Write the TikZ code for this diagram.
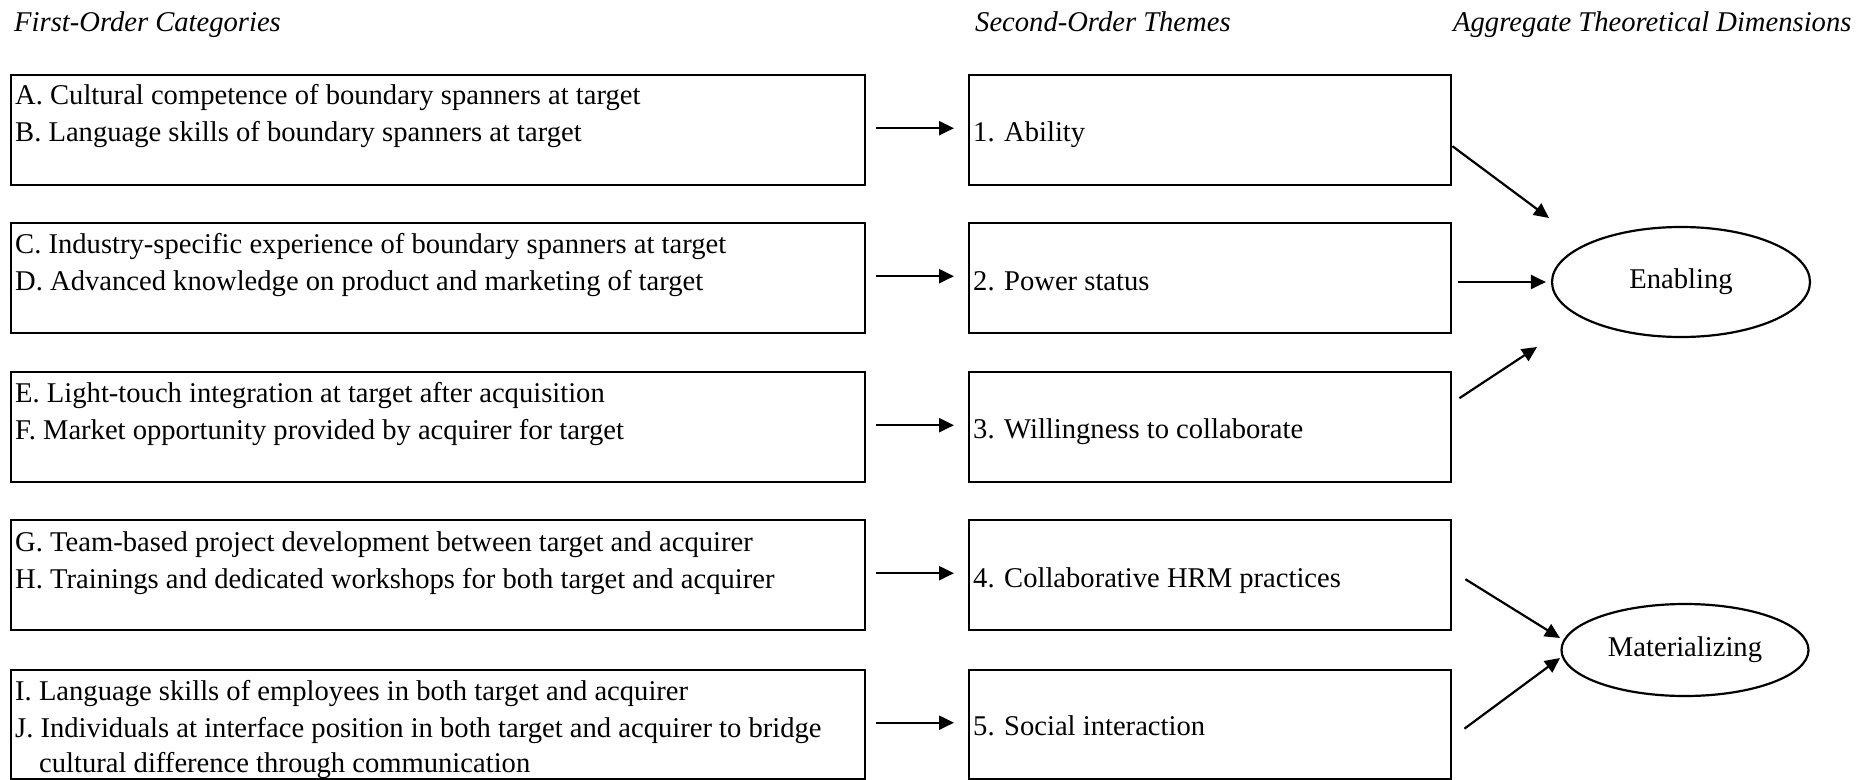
\documentclass[tikz,border=0pt]{standalone}
\usepackage{fontspec}
\setmainfont{Liberation Serif}
\usetikzlibrary{arrows.meta,shapes.geometric}
\begin{document}
\begin{tikzpicture}[x=1pt,y=-1pt,
  every node/.style={font=\fontsize{28.6}{37}\selectfont},
  lbox/.style={draw,line width=2.4pt,minimum width=854pt,minimum height=110pt,anchor=north west,inner sep=0pt},
  mbox/.style={draw,line width=2.4pt,minimum width=482pt,minimum height=110pt,anchor=north west,inner sep=0pt},
  txt/.style={anchor=base west,inner sep=0pt},
  ttl/.style={anchor=base west,inner sep=0pt,font=\fontsize{28.6}{37}\selectfont\itshape},
  dim/.style={draw,ellipse,line width=2.2pt,inner sep=0pt},
  arr/.style={line width=2.2pt,-{Triangle[length=15pt,width=14pt]}}]
\useasboundingbox (0,0) rectangle (1876,779);
% titles
\node[ttl] (t1) at (14,31) {First-Order Categories};
\node[ttl] (t2) at (975,31) {Second-Order Themes};
\node[ttl] (t3) at (1453,31) {Aggregate Theoretical Dimensions};
% left boxes
\node[lbox] (l1) at (10,74) {};
\node[lbox] (l2) at (10,222) {};
\node[lbox] (l3) at (10,371) {};
\node[lbox] (l4) at (10,519) {};
\node[lbox,minimum height=109pt] (l5) at (10,669) {};
\node[txt] (la) at (15,104) {A. Cultural competence of boundary spanners at target};
\node[txt] (lb) at (15,141) {B. Language skills of boundary spanners at target};
\node[txt] (lc) at (15,253) {C. Industry-specific experience of boundary spanners at target};
\node[txt] (ld) at (15,290) {D. Advanced knowledge on product and marketing of target};
\node[txt] (le) at (15,402) {E. Light-touch integration at target after acquisition};
\node[txt] (lf) at (15,439) {F. Market opportunity provided by acquirer for target};
\node[txt] (lg) at (15,551) {G. Team-based project development between target and acquirer};
\node[txt] (lh) at (15,588) {H. Trainings and dedicated workshops for both target and acquirer};
\node[txt] (li) at (15,700) {I. Language skills of employees in both target and acquirer};
\node[txt] (lj) at (15,737) {J. Individuals at interface position in both target and acquirer to bridge};
\node[txt] (lk) at (39,772) {cultural difference through communication};
% middle boxes
\node[mbox] (m1) at (968,74) {};
\node[mbox] (m2) at (968,222) {};
\node[mbox] (m3) at (968,371) {};
\node[mbox] (m4) at (968,519) {};
\node[mbox,minimum height=109pt] (m5) at (968,669) {};
\node[txt] (ma) at (973,141) {1. Ability};
\node[txt] (mb) at (973,290) {2. Power status};
\node[txt] (mc) at (973,438) {3. Willingness to collaborate};
\node[txt] (md) at (973,587) {4. Collaborative HRM practices};
\node[txt] (me) at (973,735) {5. Social interaction};
% ellipses
\node[dim,minimum width=258pt,minimum height=110pt] (en) at (1681,282) {Enabling};
\node[dim,minimum width=247pt,minimum height=92pt] (ma2) at (1685,650) {Materializing};
% arrows left -> middle
\foreach \i in {1,...,5}{
  \draw[arr,shorten <=10pt,shorten >=14pt] ([yshift=2pt]l\i.east) -- ([yshift=2pt]m\i.west);
}
% arrows middle -> dimensions
\coordinate (p1) at (1549,218);
\coordinate (p3) at (1537,347);
\coordinate (p4) at (1560,638);
\coordinate (p5) at (1560,658);
\draw[arr] ([yshift=-16pt]m1.east) -- (p1);
\draw[arr,shorten <=6pt,shorten >=5pt] (m2.east |- en.west) -- (en.west);
\draw[arr] ([xshift=7pt,yshift=29pt]m3.east) -- (p3);
\draw[arr] ([xshift=13pt,yshift=-4pt]m4.east) -- (p4);
\draw[arr] ([xshift=12pt,yshift=-4pt]m5.east) -- (p5);
\end{tikzpicture}
\end{document}
